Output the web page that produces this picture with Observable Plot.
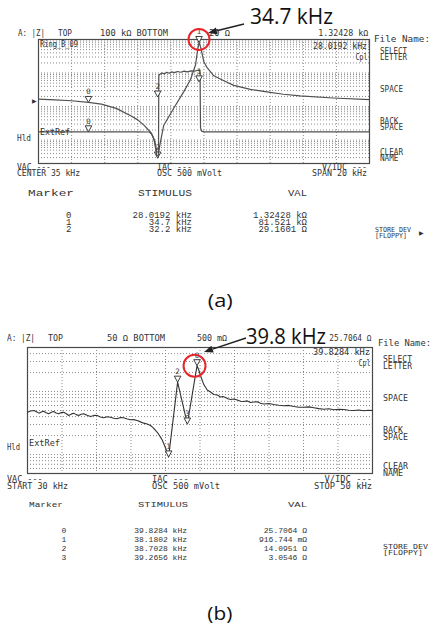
<!DOCTYPE html>
<html><head><meta charset="utf-8">
<script src="https://cdn.jsdelivr.net/npm/d3@7"></script>
<script src="https://cdn.jsdelivr.net/npm/@observablehq/plot@0.6"></script>
<style>
body{margin:0;background:#fff}
#root{position:relative;width:438px;height:631px;overflow:hidden;background:#fff}
.t{position:absolute;white-space:pre;}
</style></head><body><div id="root"></div>
<script>
// ---------- Panel (a): |Z| trace (kHz, ohm) ----------
const freqA = [25.0, 26.0, 27.0, 28.0192, 28.8, 29.7, 30.6, 31.0, 31.4, 31.8, 32.0, 32.1, 32.2, 32.35, 32.57, 33.18, 33.78, 34.18, 34.49, 34.6, 34.7, 34.8, 34.99, 35.19, 35.59, 36.2, 36.8, 37.8, 38.8, 39.8, 40.8, 42.8, 45.0];
const zA = [1660, 1590, 1490, 1324.28, 1180, 880, 520, 400, 270, 165, 98, 60, 29.16, 80, 278, 902, 2790, 6270, 17700, 43600, 81521, 58000, 21800, 14400, 8270, 5850, 4280, 3250, 2730, 2330, 2070, 1800, 1600];
// ---------- Panel (a): phase trace (kHz, degrees) ----------
const freqPhaseA = [25.0, 28.0, 31.0, 31.7, 31.85, 31.97, 32.07, 32.15, 32.25, 32.27, 32.3, 32.45, 32.6, 32.75, 32.9, 33.05, 33.2, 33.4, 33.6, 33.8, 34.0, 34.2, 34.4, 34.6, 34.76, 34.79, 34.85, 35.0, 38.0, 41.0, 45.0];
const phaseA = [-88, -88, -88, -88.5, -95, -108, -135, -157, -156, 74, 78, 83, 80, 85, 82, 86, 84, 87, 85, 88, 86, 89, 88, 90, 91, -76, -86, -88, -88, -88, -88];
// markers (a)
const markerLabelsA = ["0", "1", "2"];
const markerFreqA = [28.0192, 34.7, 32.2];
const markerZA = [1324.28, 81521, 29.1601];
const markerPhaseA = [-88, 57, 13];
const stimulusA = ["28.0192 kHz", "34.7 kHz", "32.2 kHz"];
const valA = ["1.32428 kΩ", "81.521 kΩ", "29.1601 Ω"];
const domainXA = [25, 45];
const domainZA = [20, 100000];
const domainPhaseA = [-180, 180];
const gridXA = [27, 29, 31, 33, 35, 37, 39, 41, 43];

// ---------- Panel (b): |Z| trace (kHz, ohm) ----------
const freqB = [30.0, 30.18, 30.37, 30.52, 30.66, 30.8, 30.94, 31.08, 31.23, 31.38, 31.52, 31.66, 31.81, 31.95, 32.10, 32.25, 32.39, 32.53, 32.68, 32.82, 32.97, 33.11, 33.26, 33.45, 33.65, 33.85, 34.04, 34.23, 34.42, 34.62, 34.81, 35.0, 35.2, 35.39, 35.58, 35.78, 35.97, 36.16, 36.36, 36.55, 36.74, 36.94, 37.13, 37.28, 37.42, 37.57, 37.71, 37.81, 37.90, 38.04, 38.1802, 38.7028, 39.2656, 39.8284, 39.93, 40.07, 40.22, 40.42, 40.61, 40.8, 41.0, 41.19, 41.33, 41.48, 41.62, 41.77, 41.96, 42.16, 42.35, 42.54, 42.74, 42.93, 43.12, 43.32, 43.51, 43.70, 43.99, 44.28, 44.57, 44.86, 45.15, 45.44, 45.73, 46.02, 46.31, 46.60, 46.89, 47.18, 47.47, 47.76, 48.05, 48.34, 48.63, 48.92, 49.21, 49.50, 49.75, 50.0];
const zB = [4.70, 4.92, 5.00, 4.78, 4.54, 4.72, 4.87, 4.62, 4.44, 4.68, 4.82, 4.58, 4.44, 4.63, 4.70, 4.45, 4.16, 4.38, 4.54, 4.30, 4.16, 4.36, 4.44, 4.20, 4.02, 4.18, 4.16, 3.95, 3.83, 3.98, 3.91, 3.76, 3.70, 3.86, 3.83, 3.66, 3.56, 3.58, 3.47, 3.30, 3.15, 3.05, 2.89, 2.68, 2.41, 2.16, 1.89, 1.70, 1.48, 1.20, 0.916744, 14.0951, 3.0546, 25.7064, 22.0, 16.7, 12.9, 10.6, 9.83, 8.97, 8.81, 8.19, 8.35, 8.04, 7.70, 7.48, 7.62, 7.34, 7.00, 6.95, 7.10, 6.70, 6.82, 6.87, 6.50, 6.34, 6.45, 6.22, 6.05, 5.94, 6.02, 5.78, 5.64, 5.62, 5.70, 5.52, 5.35, 5.24, 5.32, 5.13, 5.22, 5.19, 5.05, 5.00, 5.10, 4.95, 5.04, 5.00];
const markerLabelsB = ["0", "1", "2", "3"];
const markerFreqB = [39.8284, 38.1802, 38.7028, 39.2656];
const markerZB = [25.7064, 0.916744, 14.0951, 3.0546];
const stimulusB = ["39.8284 kHz", "38.1802 kHz", "38.7028 kHz", "39.2656 kHz"];
const valB = ["25.7064 Ω", "916.744 mΩ", "14.0951 Ω", "3.0546 Ω"];
const domainXB = [30, 50];
const domainZB = [0.5, 50];
const gridXB = [32, 34, 36, 38, 40, 42, 44, 46, 48];

// ---------- build ----------
const root = document.getElementById("root");
const MONO = "'DejaVu Sans Mono', monospace";
const TAB = "'Liberation Mono', monospace";
const SANS = "'Open Sans', 'Noto Sans', sans-serif";
const GRID = {stroke: "#8c8c8c", strokeDasharray: "1,2", strokeWidth: 1};
const INK = "#3c3c3c";
const RED = "#e5262b";

const traceA = freqA.map((f, i) => ({f, z: zA[i]}));
const tracePA = freqPhaseA.map((f, i) => ({f, p: phaseA[i]}));
const markersA = markerFreqA.map((f, i) => ({f, z: markerZA[i], p: markerPhaseA[i], label: markerLabelsA[i]}));
const traceB = freqB.map((f, i) => ({f, z: zB[i]}));
const markersB = markerFreqB.map((f, i) => ({f, z: markerZB[i], label: markerLabelsB[i]}));

// downward triangle whose tip sits on the data point
const triDown = {draw(ctx) { ctx.moveTo(-3.3, -6); ctx.lineTo(3.3, -6); ctx.lineTo(0, 0); ctx.closePath(); }};
function markerMarks(data, y) {
  return [
    Plot.dot(data, {x: "f", y, symbol: triDown, r: 3, fill: "white", stroke: INK, strokeWidth: 1}),
    Plot.text(data, {x: "f", y, text: "label", dy: -10.5, fontSize: 7.5, fontFamily: "DejaVu Sans Mono", fill: INK})
  ];
}

const dimsA = {width: 438, height: 180, marginLeft: 38, marginRight: 69, marginTop: 39, marginBottom: 17};
const dimsB = {width: 438, height: 170, marginLeft: 27, marginRight: 66, marginTop: 27, marginBottom: 17};
const plotStyle = {background: "transparent", overflow: "visible"};

const plotA = Plot.plot({
  ...dimsA, style: plotStyle,
  x: {domain: domainXA, axis: null},
  y: {type: "log", domain: domainZA, axis: null},
  marks: [
    Plot.ruleX(gridXA, GRID),
    Plot.ruleY(d3.scaleLog().domain(domainZA).ticks(20), GRID),
    Plot.frame({stroke: "#4a4a4a", strokeWidth: 1.2}),
    Plot.line(traceA, {x: "f", y: "z", stroke: "#505050", strokeWidth: 1.2}),
    ...markerMarks(markersA, "z"),
    Plot.dot([markersA[1]], {x: "f", y: "z", r: 10.5, dy: -3, stroke: RED, strokeWidth: 2, fill: "none"})
  ]
});
const plotPA = Plot.plot({
  ...dimsA, style: plotStyle,
  x: {domain: domainXA, axis: null},
  y: {domain: domainPhaseA, axis: null},
  marks: [
    Plot.line(tracePA, {x: "f", y: "p", stroke: "#505050", strokeWidth: 1.2}),
    ...markerMarks(markersA, "p")
  ]
});
const plotB = Plot.plot({
  ...dimsB, style: plotStyle,
  x: {domain: domainXB, axis: null},
  y: {type: "log", domain: domainZB, axis: null},
  marks: [
    Plot.ruleX(gridXB, GRID),
    Plot.ruleY(d3.scaleLog().domain(domainZB).ticks(20), GRID),
    Plot.frame({stroke: "#4a4a4a", strokeWidth: 1.2}),
    Plot.line(traceB, {x: "f", y: "z", stroke: "#333", strokeWidth: 1.1}),
    ...markerMarks(markersB, "z"),
    Plot.dot([markersB[0]], {x: "f", y: "z", r: 11, dx: -2.5, stroke: RED, strokeWidth: 2, fill: "none"})
  ]
});
function place(el, top) { el.style.position = "absolute"; el.style.left = "0px"; el.style.top = top + "px"; root.appendChild(el); }
place(plotA, 0); place(plotPA, 0); place(plotB, 320);

// text helper: s may hold several lines ("\n"); y is the centre of the first line
function txt(s, x, y, o = {}) {
  const fs = o.fs || 8, anchor = o.anchor || "start";
  const lh = o.lh || fs;
  const d = document.createElement("div");
  d.className = "t";
  d.textContent = s;
  d.style.fontSize = fs + "px";
  d.style.lineHeight = lh + "px";
  d.style.fontFamily = o.font || MONO;
  d.style.color = o.color || "#333";
  d.style.textAlign = anchor === "end" ? "right" : anchor === "middle" ? "center" : "left";
  d.style.top = (y - lh * 0.5) + "px";
  root.appendChild(d);
  const w0 = d.getBoundingClientRect().width;
  d.style.left = (anchor === "end" ? x - w0 : anchor === "middle" ? x - w0 / 2 : x) + "px";
  if (o.w) {
    d.style.transformOrigin = anchor === "end" ? "right center" : anchor === "middle" ? "center center" : "left center";
    d.style.transform = `scaleX(${o.w / w0})`;
  }
}
const P = 5.6;

// ---- panel (a) texts ----
txt("A: |Z|", 18, 34, {w: 27, lh: P});
txt("TOP", 58, 34, {w: 14, lh: P});
txt("100 kΩ BOTTOM", 100, 34, {w: 68, lh: P});
txt("20 Ω", 209, 34, {w: 21, lh: P});
txt("1.32428 kΩ", 368, 34, {w: 50, anchor: "end", lh: P});
txt("File Name:", 374, 39.5, {w: 56, lh: P});
txt("SELECT\nLETTER", 380, 52, {w: 27, lh: 6.5});
txt("SPACE", 380, 90, {w: 23, lh: P});
txt("BACK\nSPACE", 380, 121.5, {w: 23, lh: 6});
txt("CLEAR\nNAME", 380, 153, {w: 23, lh: 6});
txt("Ring_B_09", 40, 45, {w: 38, lh: P});
txt("28.0192 kHz", 367, 47, {w: 54, anchor: "end", lh: P});
txt("Cpl", 367, 58, {w: 12, anchor: "end", lh: P});
txt("ExtRef", 40, 133, {w: 30, lh: P});
txt("Hld", 17, 139, {w: 14, lh: P});
txt("▶", 32, 101, {fs: 6, font: "'DejaVu Sans'"});
txt("VAC ---\nCENTER 35 kHz", 17, 167.5, {w: 63, lh: 6});
txt("IAC ---\nOSC 500 mVolt", 157, 167.5, {w: 65, lh: 6});
txt("V/IDC ---\nSPAN 20 kHz", 367, 167.5, {w: 55, anchor: "end", lh: 6});
txt("Marker", 28, 194, {fs: 9, font: TAB, w: 46});
txt("STIMULUS", 138, 194, {fs: 9, font: TAB, w: 54});
txt("VAL", 288, 194, {fs: 9, font: TAB, w: 19});
txt(markerLabelsA.join("\n"), 66, 216.5, {fs: 9, font: TAB, lh: 7.25});
txt(stimulusA.join("\n"), 192, 216.5, {fs: 9, font: TAB, anchor: "end", lh: 7.25});
txt(valA.join("\n"), 307, 216.5, {fs: 9, font: TAB, anchor: "end", lh: 7.25});
txt("STORE DEV\n[FLOPPY]", 375, 231, {fs: 7, w: 36, lh: 5.5});
txt("▶", 419, 233, {fs: 6, font: "'DejaVu Sans'"});
txt("(a)", 220, 300, {fs: 18, font: SANS, anchor: "middle", w: 25, color: "#111"});
txt("34.7 kHz", 250, 15, {fs: 22, font: SANS, w: 83, color: "#111"});

// ---- panel (b) texts ----
txt("A: |Z|", 7, 339, {w: 28, lh: P});
txt("TOP", 48, 339, {w: 15, lh: P});
txt("50 Ω BOTTOM", 107, 339, {w: 58, lh: P});
txt("500 mΩ", 197, 339, {w: 30, lh: P});
txt("25.7064 Ω", 371, 339, {w: 42, anchor: "end", lh: P});
txt("File Name:", 378, 344, {w: 53, lh: P});
txt("SELECT\nLETTER", 383, 359, {w: 29, lh: 7});
txt("SPACE", 383, 399, {w: 25, lh: P});
txt("BACK\nSPACE", 383, 430, {w: 25, lh: 7});
txt("CLEAR\nNAME", 383, 466, {w: 25, lh: 7});
txt("39.8284 kHz", 370, 353, {w: 57, anchor: "end", lh: P});
txt("Cpl", 370, 364, {w: 12, anchor: "end", lh: P});
txt("ExtRef", 29, 444, {w: 31, lh: P});
txt("Hld", 7, 448, {w: 13, lh: P});
txt("VAC ---\nSTART 30 kHz", 7, 479, {w: 61, lh: 7});
txt("IAC ---\nOSC 500 mVolt", 152, 479, {w: 68, lh: 7});
txt("V/IDC ---\nSTOP 50 kHz", 371.5, 479, {w: 58, anchor: "end", lh: 7});
txt("Marker", 29, 505, {fs: 8, font: TAB, w: 34});
txt("STIMULUS", 138, 505, {fs: 8, font: TAB, w: 50});
txt("VAL", 288, 505, {fs: 8, font: TAB, w: 19});
txt(markerLabelsB.join("\n"), 61.5, 531.7, {fs: 8, font: TAB, lh: 8.87});
txt(stimulusB.join("\n"), 187, 531.7, {fs: 8, font: TAB, anchor: "end", lh: 8.87});
txt(valB.join("\n"), 307, 531.7, {fs: 8, font: TAB, anchor: "end", lh: 8.87});
txt("STORE DEV\n[FLOPPY]", 383, 547, {fs: 7, w: 45, lh: 6});
txt("(b)", 220, 613, {fs: 18, font: SANS, anchor: "middle", w: 25, color: "#111"});
txt("39.8 kHz", 246, 335, {fs: 22, font: SANS, w: 80, color: "#111"});

// ---- annotation arrows ----
const ns = "http://www.w3.org/2000/svg";
const ov = document.createElementNS(ns, "svg");
ov.setAttribute("width", 438); ov.setAttribute("height", 631);
ov.style.position = "absolute"; ov.style.left = "0px"; ov.style.top = "0px";
root.appendChild(ov);
function arrow(x1, y1, x2, y2) {
  const a = Math.atan2(y2 - y1, x2 - x1), L = 9, H = 3.5;
  const bx = x2 - L * Math.cos(a), by = y2 - L * Math.sin(a);
  const l = document.createElementNS(ns, "line");
  l.setAttribute("x1", x1); l.setAttribute("y1", y1); l.setAttribute("x2", bx); l.setAttribute("y2", by);
  l.setAttribute("stroke", "#222"); l.setAttribute("stroke-width", 1.5);
  ov.appendChild(l);
  const p = document.createElementNS(ns, "polygon");
  const px = -Math.sin(a), py = Math.cos(a);
  p.setAttribute("points", `${x2},${y2} ${bx + H * px},${by + H * py} ${bx - H * px},${by - H * py}`);
  p.setAttribute("fill", "#222");
  ov.appendChild(p);
}
arrow(244, 24, 208, 33);
arrow(246, 338, 204, 352);
</script></body></html>
